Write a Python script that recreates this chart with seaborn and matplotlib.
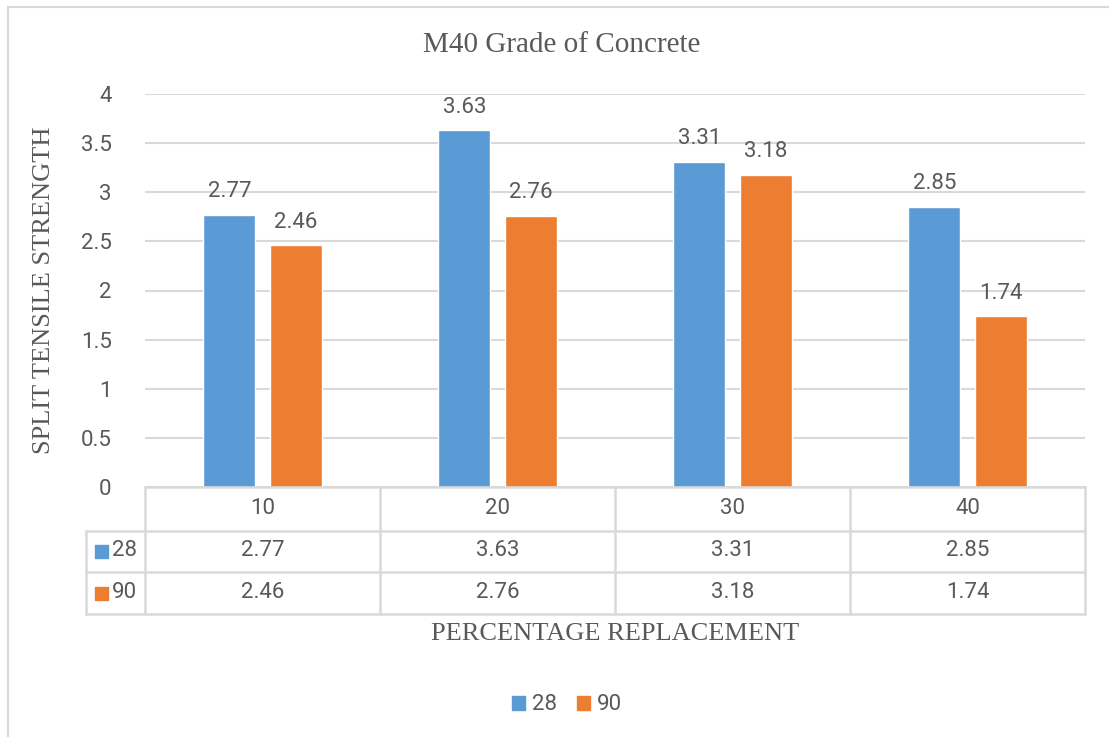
import matplotlib
matplotlib.use("Agg")
import matplotlib.pyplot as plt
import matplotlib.transforms as mtransforms
from matplotlib.patches import Rectangle
import pandas as pd
import seaborn as sns

CATEGORIES = ["10", "20", "30", "40"]
SERIES = ["28", "90"]
VALUES_28 = [2.77, 3.63, 3.31, 2.85]
VALUES_90 = [2.46, 2.76, 3.18, 1.74]
YTICKS = [0, 0.5, 1, 1.5, 2, 2.5, 3, 3.5, 4]
YTICK_LABELS = ["0", "0.5", "1", "1.5", "2", "2.5", "3", "3.5", "4"]

COLORS = {"28": "#5B9BD5", "90": "#ED7D31"}
GRID = "#D9D9D9"
TEXT = "#595959"
SANS = ["Roboto", "DejaVu Sans"]
SERIF = ["Liberation Serif", "DejaVu Serif"]
FS = 16

W, H = 1109, 737

sns.set_style("white")
plt.rcParams["font.family"] = SANS

frame = pd.DataFrame({
    "replacement": CATEGORIES * 2,
    "series": [SERIES[0]] * 4 + [SERIES[1]] * 4,
    "strength": VALUES_28 + VALUES_90,
})

fig = plt.figure(figsize=(W / 100, H / 100), dpi=100)
ax = fig.add_axes([145 / W, 1 - 487 / H, 940 / W, 393 / H])


def fy(py):
    return 1 - py / H


sns.barplot(
    data=frame, x="replacement", y="strength", hue="series",
    order=CATEGORIES, hue_order=SERIES, palette=COLORS,
    width=0.562, gap=0.213, saturation=1, ax=ax, legend=False,
)

ax.set_ylim(0, 4)
ax.set_xlim(-0.5, len(CATEGORIES) - 0.5)
ax.set_yticks(YTICKS)
ax.set_yticklabels(YTICK_LABELS)
ax.tick_params(axis="y", length=0, pad=24, labelsize=FS, labelcolor=TEXT)
ax.set_xticks([])
ax.set_xlabel("")
ax.set_ylabel("")
for side in ax.spines.values():
    side.set_visible(False)
ax.grid(True, axis="y", color=GRID, linewidth=1.5)
ax.set_axisbelow(True)

for container in ax.containers:
    ax.bar_label(container, fmt="%.2f", padding=9, fontsize=FS, color=TEXT)

# title and axis titles
fig.text(562 / W, fy(45), "M40 Grade of Concrete", ha="center", va="center",
         family=SERIF, fontsize=21, color=TEXT)
fig.text(44 / W, fy(290), "SPLIT TENSILE STRENGTH", ha="center", va="center",
         rotation=90, family=SERIF, fontsize=19, color=TEXT)
fig.text(615 / W, fy(634), "PERCENTAGE REPLACEMENT", ha="center", va="center",
         family=SERIF, fontsize=19, color=TEXT)

# data table under the plot
blend = mtransforms.blended_transform_factory(ax.transData, fig.transFigure)
lo, hi = -0.5, len(CATEGORIES) - 0.5
left_px = 86

line_kw = dict(color=GRID, linewidth=1.8, clip_on=False)
ax.plot([lo, hi], [fy(487)] * 2, transform=blend, **line_kw)
for py in [531, 572, 614]:
    fig.add_artist(plt.Line2D([left_px / W, 1085 / W], [fy(py)] * 2, **line_kw))
for i in range(len(CATEGORIES) + 1):
    ax.plot([lo + i, lo + i], [fy(487), fy(614)], transform=blend, **line_kw)
fig.add_artist(plt.Line2D([left_px / W] * 2, [fy(531), fy(614)], **line_kw))

for i, cat in enumerate(CATEGORIES):
    ax.text(i, fy(509), cat, transform=blend, ha="center", va="center",
            fontsize=FS, color=TEXT)
    ax.text(i, fy(551), f"{VALUES_28[i]:.2f}", transform=blend, ha="center",
            va="center", fontsize=FS, color=TEXT)
    ax.text(i, fy(593), f"{VALUES_90[i]:.2f}", transform=blend, ha="center",
            va="center", fontsize=FS, color=TEXT)

for name, py in zip(SERIES, [551, 593]):
    fig.add_artist(Rectangle((95 / W, fy(py + 7)), 13 / W, 13 / H,
                             color=COLORS[name], transform=fig.transFigure))
    fig.text(112 / W, fy(py), name, ha="left", va="center", fontsize=FS,
             color=TEXT)

# legend at the bottom
handles = [Rectangle((0, 0), 1, 1, color=COLORS[s]) for s in SERIES]
fig.legend(handles, SERIES, loc="center", bbox_to_anchor=(567 / W, fy(705)),
           ncol=2, frameon=False, fontsize=FS, handlelength=0.6,
           handleheight=0.6, handletextpad=0.3, columnspacing=0.9,
           labelcolor=TEXT)

# outer chart frame
fig.add_artist(Rectangle((8 / W, -0.1), 1.2, fy(7) + 0.1, fill=False,
                         edgecolor=GRID, linewidth=1.5,
                         transform=fig.transFigure))

fig.savefig("out.png", dpi=100, facecolor="white")
